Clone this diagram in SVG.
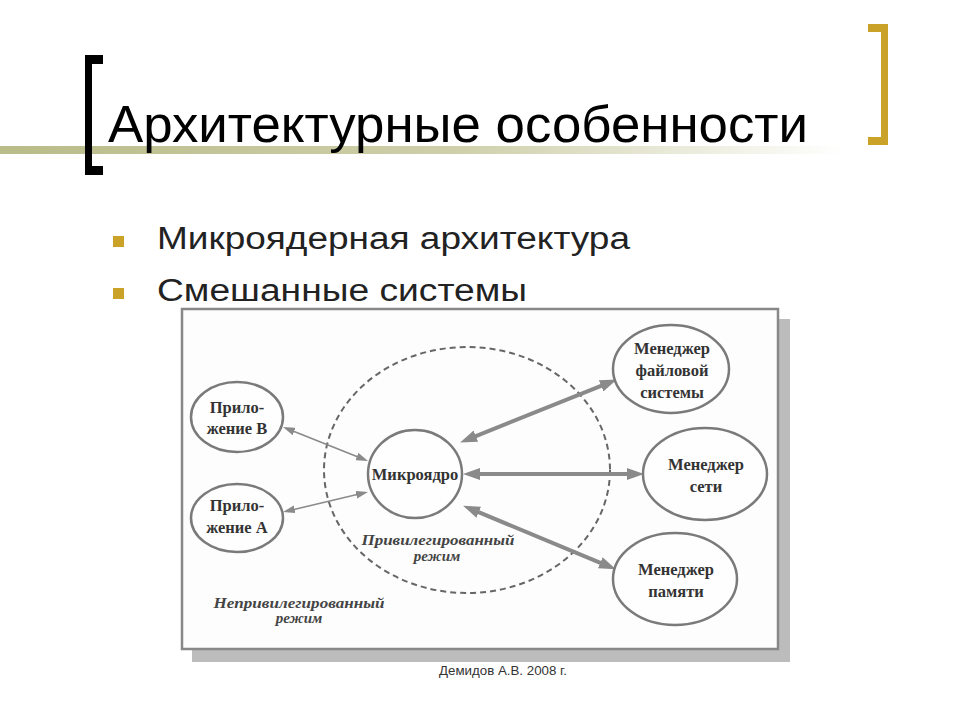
<svg xmlns="http://www.w3.org/2000/svg" width="960" height="720" viewBox="0 0 960 720">
<defs>
<linearGradient id="lineGrad" x1="0" y1="0" x2="1" y2="0">
<stop offset="0" stop-color="#b9bb88"/>
<stop offset="0.55" stop-color="#cfd0ab"/>
<stop offset="1" stop-color="#ffffff"/>
</linearGradient>
<marker id="ah" markerUnits="userSpaceOnUse" markerWidth="18" markerHeight="12" refX="6" refY="6" orient="auto-start-reverse">
<path d="M0,0 L17,6 L0,12 z" fill="#8a8a8a"/>
</marker>
<marker id="as" markerUnits="userSpaceOnUse" markerWidth="13" markerHeight="8" refX="4" refY="4" orient="auto-start-reverse">
<path d="M0,0 L12,4 L0,8 z" fill="#8a8a8a"/>
</marker>
</defs>
<style>
.title{font-family:"Liberation Sans",Arial,sans-serif;font-size:52px;fill:#000}
.bul{font-family:"Liberation Sans",Arial,sans-serif;font-size:31px;fill:#222}
.node{fill:#fefefe;stroke:#7a7a7a;stroke-width:2.5}
.nt{font-family:"Liberation Serif","Times New Roman",serif;font-size:16.5px;font-weight:bold;fill:#333;text-anchor:middle}
.it{font-family:"Liberation Serif","Times New Roman",serif;font-size:15px;font-weight:bold;font-style:italic;fill:#444;text-anchor:middle}
.thick{stroke:#8a8a8a;stroke-width:4;fill:none}
.thin{stroke:#8a8a8a;stroke-width:1.6;fill:none}
.foot{font-family:"Liberation Sans",Arial,sans-serif;font-size:13px;fill:#333;text-anchor:middle}
</style>
<rect width="960" height="720" fill="#ffffff"/>
<g id="header">
<rect x="0" y="146" width="845" height="8" fill="url(#lineGrad)"/>
<path d="M85,55 H103 V64 H92 V166 H103 V175 H85 z" fill="#000"/>
<path d="M868,24 H888 V145 H868 V137 H881 V32 H868 z" fill="#c9a227"/>
<text class="title" x="108" y="142" textLength="700" lengthAdjust="spacingAndGlyphs">Архитектурные особенности</text>
<rect x="113" y="236" width="11" height="11" fill="#c9a227"/>
<text class="bul" x="157" y="249" textLength="473" lengthAdjust="spacingAndGlyphs">Микроядерная архитектура</text>
<rect x="113" y="288" width="11" height="11" fill="#c9a227"/>
<text class="bul" x="157" y="301" textLength="370" lengthAdjust="spacingAndGlyphs">Смешанные системы</text>
</g>
<g id="frame">
<rect x="192" y="319" width="598" height="343" fill="#bcbcbc"/>
<rect x="182" y="309" width="596" height="340" fill="#fdfdfd" stroke="#888" stroke-width="2.5"/>
<ellipse cx="467" cy="470" rx="143" ry="123" fill="none" stroke="#666" stroke-width="2" stroke-dasharray="6,4"/>
</g>
<g id="connectors">
<line class="thin" x1="290.4" y1="430" x2="360.6" y2="458" marker-start="url(#as)" marker-end="url(#as)"/>
<line class="thin" x1="290.8" y1="510.2" x2="360.2" y2="493.8" marker-start="url(#as)" marker-end="url(#as)"/>
<line class="thick" x1="470.3" y1="438.3" x2="606.7" y2="383.7" marker-start="url(#ah)" marker-end="url(#ah)"/>
<line class="thick" x1="474" y1="474" x2="633" y2="474" marker-start="url(#ah)" marker-end="url(#ah)"/>
<line class="thick" x1="473.2" y1="509.9" x2="605.8" y2="565.1" marker-start="url(#ah)" marker-end="url(#ah)"/>
</g>
<g id="appB">
<ellipse class="node" cx="237" cy="417" rx="46" ry="35"/>
<text class="nt" x="237" y="413">Прило-</text>
<text class="nt" x="237" y="434">жение В</text>
</g>
<g id="appA">
<ellipse class="node" cx="237" cy="518" rx="46" ry="34"/>
<text class="nt" x="237" y="511">Прило-</text>
<text class="nt" x="237" y="533">жение А</text>
</g>
<g id="kernel">
<ellipse class="node" cx="415" cy="474" rx="47" ry="44"/>
<text class="nt" x="415" y="480">Микроядро</text>
</g>
<g id="fsManager">
<ellipse class="node" cx="671" cy="369" rx="58" ry="44"/>
<text class="nt" x="672" y="354">Менеджер</text>
<text class="nt" x="672" y="376">файловой</text>
<text class="nt" x="672" y="398">системы</text>
</g>
<g id="netManager">
<ellipse class="node" cx="705" cy="474" rx="62" ry="46"/>
<text class="nt" x="706" y="470">Менеджер</text>
<text class="nt" x="706" y="492">сети</text>
</g>
<g id="memManager">
<ellipse class="node" cx="675" cy="579" rx="62" ry="46"/>
<text class="nt" x="676" y="575">Менеджер</text>
<text class="nt" x="676" y="597">памяти</text>
</g>
<g id="labels">
<text class="it" x="438" y="545" textLength="153" lengthAdjust="spacingAndGlyphs">Привилегированный</text>
<text class="it" x="437" y="561">режим</text>
<text class="it" x="299" y="608" textLength="171" lengthAdjust="spacingAndGlyphs">Непривилегированный</text>
<text class="it" x="299" y="623">режим</text>
</g>
<text class="foot" x="503" y="675" textLength="128" lengthAdjust="spacingAndGlyphs">Демидов А.В. 2008 г.</text>
</svg>
